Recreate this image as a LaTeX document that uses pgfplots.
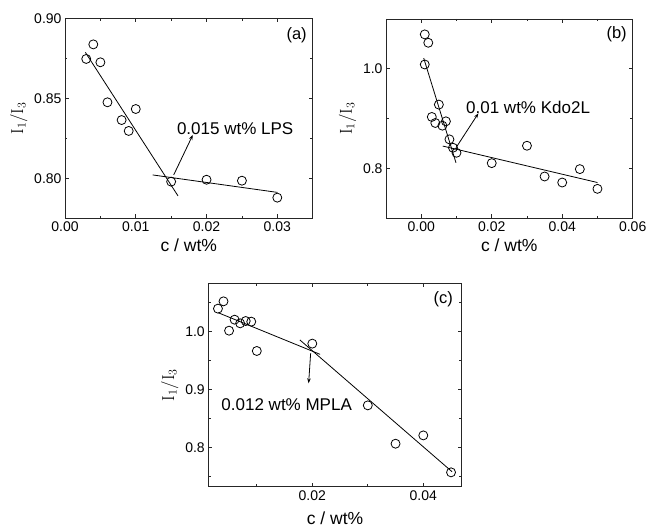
\documentclass[border=0pt]{standalone}
\usepackage{pgfplots}
\pgfplotsset{compat=1.18}
\usepackage[no-math]{fontspec}
\setmainfont{Liberation Sans}
\usetikzlibrary{arrows.meta}

\pgfplotsset{panel/.style={scale only axis, anchor=south west, scaled ticks=false,
  axis line style={black!85, line width=0.9pt}, tick style={black!85, line width=0.8pt},
  tick align=inside, major tick length=4pt, minor tick length=2.5pt,
  tick label style={font=\fontsize{14}{16}\selectfont},
  xlabel style={font=\fontsize{17.5}{19}\selectfont},
  ylabel style={font=\fontsize{18}{20}\selectfont},
  /pgf/number format/assume math mode=true, /pgf/number format/fixed, /pgf/number format/fixed zerofill,
  xlabel={c / wt\%}, ylabel={$\mathrm{I_1/I_3}$}, clip=false},
  pts/.style={only marks, mark=o, mark size=4.5pt, mark options={line width=0.8pt}, black},
  fit/.style={black, line width=0.8pt, mark=none}}
\tikzset{note/.style={font=\fontsize{17}{19}\selectfont, anchor=west, inner sep=0pt},
  tag/.style={font=\fontsize{16.5}{18}\selectfont}}

\begin{document}
\begin{tikzpicture}
\useasboundingbox (0,0) rectangle (646pt,527pt);

% (a) LPS
\begin{axis}[panel, at={(65pt,308.7pt)}, width=247.7pt, height=200pt,
  xmin=0, xmax=0.035, ymin=0.775, ymax=0.90,
  xtick={0,0.01,0.02,0.03}, minor xtick={0.005,0.015,0.025},
  ytick={0.80,0.85,0.90}, minor ytick={0.825,0.875},
  xticklabel style={/pgf/number format/precision=2}, yticklabel style={/pgf/number format/precision=2}]
\addplot[pts] coordinates {(0.003,0.8746) (0.004,0.8837) (0.005,0.8725) (0.006,0.8475) (0.008,0.8364) (0.009,0.8296) (0.010,0.8433) (0.015,0.7979) (0.020,0.7991) (0.025,0.7985) (0.030,0.7879)};
\addplot[fit] coordinates {(0.00288,0.8787) (0.01597,0.7890)};
\addplot[fit] coordinates {(0.01238,0.8021) (0.030,0.7912)};
\draw[-{Stealth[length=5pt,width=3.5pt]}, line width=0.8pt] (axis cs:0.01536,0.8021) -- (axis cs:0.01806,0.8271);
\node[note] at (axis cs:0.0158,0.8312) {0.015 wt\% LPS};
\node[tag] at (axis description cs:0.935,0.915) {(a)};
\end{axis}

% (b) Kdo2L
\begin{axis}[panel, at={(386pt,308.7pt)}, width=246.7pt, height=199.3pt,
  xmin=-0.01, xmax=0.06, ymin=0.7, ymax=1.1,
  xtick={0,0.02,0.04,0.06}, minor xtick={-0.01,0.01,0.03,0.05},
  ytick={0.8,1.0}, minor ytick={0.9},
  xticklabel style={/pgf/number format/precision=2}, yticklabel style={/pgf/number format/precision=1}]
\addplot[pts] coordinates {(0.001,1.0691) (0.002,1.0523) (0.001,1.0087) (0.005,0.9282) (0.003,0.9034) (0.004,0.8913) (0.006,0.8859) (0.007,0.8946) (0.008,0.8584) (0.009,0.8416) (0.010,0.8315) (0.020,0.8107) (0.030,0.8456) (0.035,0.7839) (0.040,0.7718) (0.045,0.7987) (0.050,0.7591)};
\addplot[fit] coordinates {(0.0007,1.0215) (0.00986,0.8114)};
\addplot[fit] coordinates {(0.0061,0.8450) (0.050,0.7718)};
\draw[-{Stealth[length=5pt,width=3.5pt]}, line width=0.8pt] (axis cs:0.00986,0.8416) -- (axis cs:0.01621,0.9107);
\node[note] at (axis cs:0.0127,0.9228) {0.01 wt\% Kdo2L};
\node[tag] at (axis description cs:0.935,0.923) {(b)};
\end{axis}

% (c) MPLA
\begin{axis}[panel, at={(208.3pt,40.3pt)}, width=253.4pt, height=203.4pt,
  xmin=0.00126, xmax=0.04692, ymin=0.732, ymax=1.0836,
  xtick={0.02,0.04}, minor xtick={0.01,0.03},
  ytick={0.8,0.9,1.0}, minor ytick={0.75,0.85,0.95,1.05},
  xlabel style={yshift=-5pt},
  xticklabel style={/pgf/number format/precision=2}, yticklabel style={/pgf/number format/precision=1}]
\addplot[pts] coordinates {(0.003,1.0398) (0.004,1.0524) (0.005,1.0017) (0.006,1.0207) (0.007,1.0144) (0.008,1.0184) (0.009,1.0173) (0.010,0.9666) (0.020,0.9793) (0.030,0.8726) (0.035,0.8063) (0.040,0.8207) (0.045,0.7568)};
\addplot[fit] coordinates {(0.0030,1.0329) (0.0214,0.9608)};
\addplot[fit] coordinates {(0.01777,0.9856) (0.04518,0.7579)};
\draw[-{Stealth[length=5pt,width=3.5pt]}, line width=0.8pt] (axis cs:0.0197,0.9625) -- (axis cs:0.01934,0.9107);
\node[note] at (axis cs:0.0036,0.8732) {0.012 wt\% MPLA};
\node[tag] at (axis description cs:0.927,0.921) {(c)};
\end{axis}
\end{tikzpicture}
\end{document}
